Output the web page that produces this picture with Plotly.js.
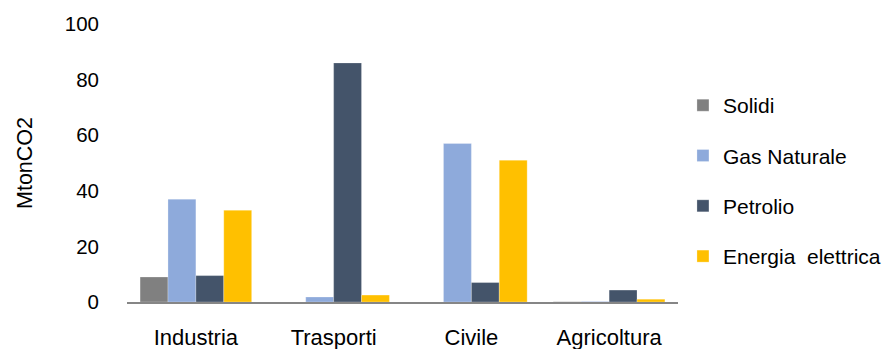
<!DOCTYPE html>
<html>
<head>
<meta charset="utf-8">
<script src="https://cdn.plot.ly/plotly-3.0.1.min.js"></script>
<style>html,body{margin:0;padding:0;background:#fff;}#chart{width:888px;height:349px;}</style>
</head>
<body>
<div id="chart"></div>
<script>
var categories = ["Industria", "Trasporti", "Civile", "Agricoltura"];
var seriesNames = ["Solidi", "Gas Naturale", "Petrolio", "Energia  elettrica"];
var solidi = [9, 0, 0, 0.1];
var gasNaturale = [37, 1.8, 57, 0.2];
var petrolio = [9.5, 86, 7, 4.3];
var energiaElettrica = [33, 2.5, 51, 1];
var yTicks = [0, 20, 40, 60, 80, 100];

var colors = ["#808080", "#8eaadb", "#44546a", "#ffc000"];
var values = [solidi, gasNaturale, petrolio, energiaElettrica];
var FONT = "'Liberation Sans', Arial, sans-serif";

var traces = values.map(function (v, i) {
  return {
    type: "bar",
    name: seriesNames[i],
    x: categories,
    y: v,
    legendgroup: "g" + i,
    marker: { color: colors[i], line: { color: "rgba(255,255,255,0.5)", width: 0.5 } },
    hoverinfo: "x+y+name"
  };
});

var layout = {
  width: 888,
  height: 349,
  margin: { l: 127, r: 210, t: 24, b: 47, pad: 0, autoexpand: false },
  paper_bgcolor: "#ffffff",
  plot_bgcolor: "#ffffff",
  barmode: "group",
  bargap: 0.19,
  bargroupgap: 0,
  font: { family: FONT, size: 21, color: "#000000" },
  xaxis: {
    type: "category",
    showgrid: false,
    zeroline: false,
    showline: true,
    linecolor: "#868686",
    linewidth: 2,
    ticks: "",
    tickfont: { family: FONT, size: 22, color: "#000" },
    ticklabelstandoff: 15
  },
  yaxis: {
    range: [0, 100],
    tickvals: yTicks,
    ticktext: yTicks.map(String),
    showgrid: false,
    zeroline: false,
    showline: false,
    ticks: "",
    ticklabelstandoff: 27,
    tickfont: { family: FONT, size: 20.5, color: "#000" },
    title: { text: "MtonCO2", font: { family: FONT, size: 21.5, color: "#000" }, standoff: 26 }
  },
  showlegend: true,
  legend: {
    x: 1.009,
    xanchor: "left",
    y: 0.435,
    yanchor: "middle",
    traceorder: "grouped",
    tracegroupgap: 20,
    font: { family: FONT, size: 21, color: "#000" },
    bgcolor: "rgba(0,0,0,0)",
    itemwidth: 30
  }
};

Plotly.newPlot("chart", traces, layout, { displayModeBar: false, staticPlot: true });
</script>
</body>
</html>
